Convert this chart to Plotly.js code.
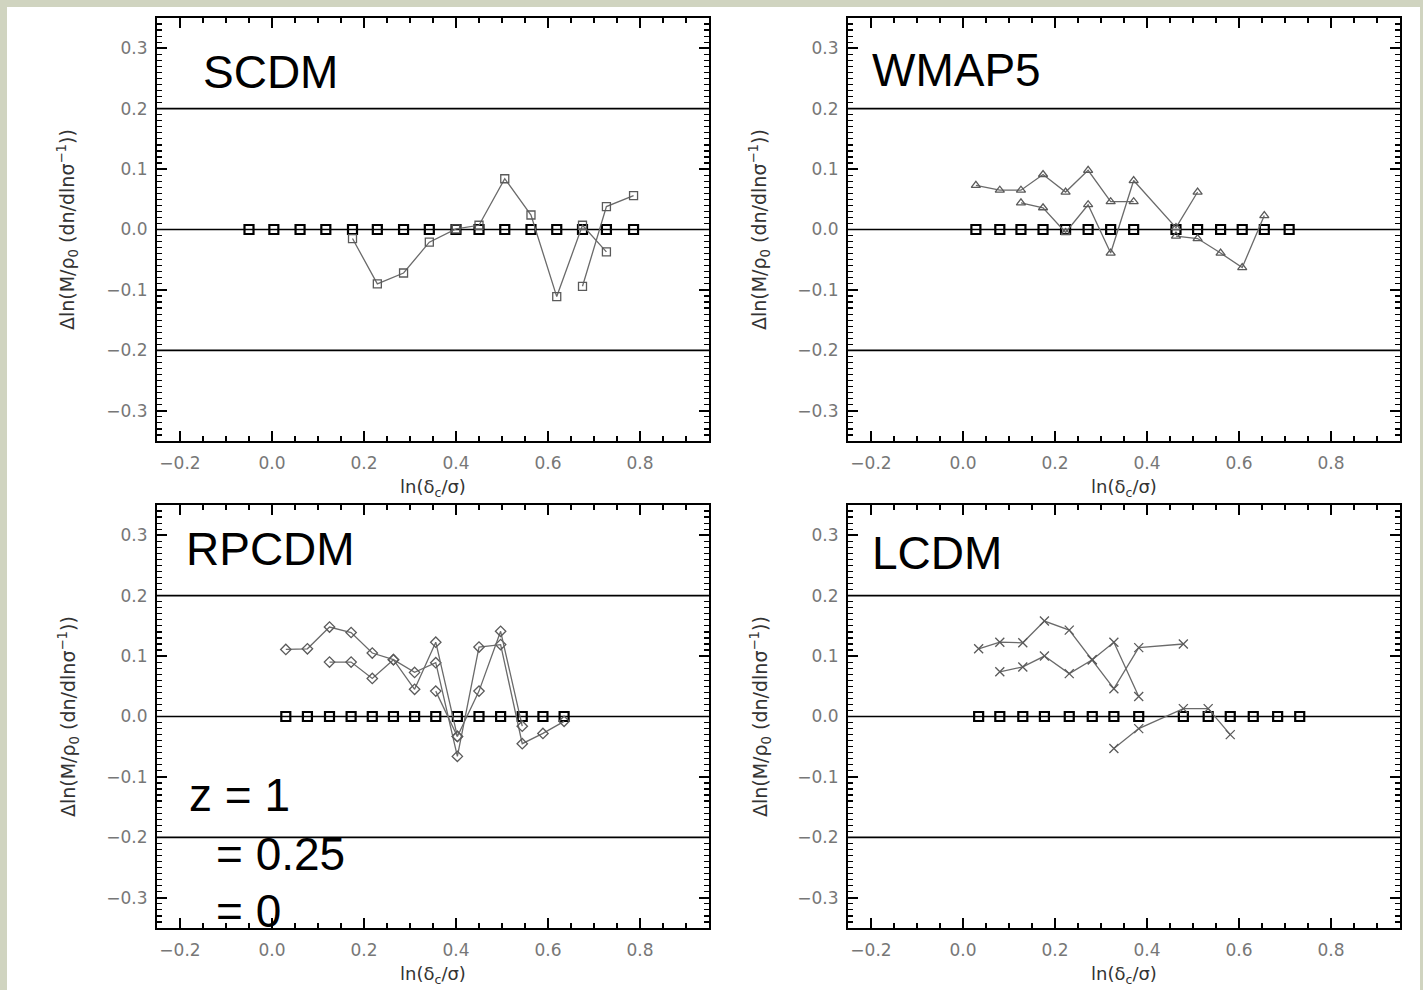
<!DOCTYPE html>
<html>
<head>
<meta charset="utf-8">
<script src="https://cdn.plot.ly/plotly-3.0.1.min.js"></script>
<style>
  html, body { margin:0; padding:0; background:#d0d4c0; width:1423px; height:990px; overflow:hidden; }
  #plot { position:absolute; left:7px; top:7px; width:1413px; height:983px; background:#fff; }
</style>
</head>
<body>
<div id="plot"></div>
<script>
// ---------------- data ----------------
// SCDM
const scdmX = [-0.050, 0.004, 0.061, 0.117, 0.175, 0.229, 0.286, 0.342, 0.400, 0.450, 0.506, 0.563, 0.619, 0.675, 0.727, 0.786];
const scdmRef = [0, 0, 0, 0, 0, 0, 0, 0, 0, 0, 0, 0, 0, 0, 0, 0];
const scdmA = [-0.015, -0.090, -0.072, -0.021, 0.001, 0.007, 0.084, 0.024, -0.111, 0.007, -0.037]; // bins 4..14
const scdmB = [-0.094, 0.038, 0.056];                                                               // bins 13..15
// WMAP5
const wmapX = [0.028, 0.080, 0.126, 0.174, 0.223, 0.272, 0.321, 0.371, 0.463, 0.510, 0.560, 0.607, 0.655, 0.709];
const wmapRef = [0, 0, 0, 0, 0, 0, 0, 0, 0, 0, 0, 0, 0, 0];
const wmapA = [0.073, 0.065, 0.065, 0.091, 0.062, 0.098, 0.046, 0.046];           // bins 0..7
const wmapB = [0.044, 0.036, -0.005, 0.041, -0.039, 0.081, 0.003, 0.062];         // bins 2..9
const wmapC = [-0.011, -0.015, -0.039, -0.063, 0.023];                            // bins 8..12
// RPCDM
const rpX = [0.030, 0.077, 0.125, 0.172, 0.218, 0.264, 0.310, 0.356, 0.403, 0.450, 0.497, 0.544, 0.589, 0.635];
const rpRef = [0, 0, 0, 0, 0, 0, 0, 0, 0, 0, 0, 0, 0, 0];
const rpA = [0.111, 0.112, 0.148, 0.139, 0.105, 0.094, 0.073, 0.089, -0.066, 0.115, 0.119, -0.045, -0.028, -0.008]; // bins 0..13
const rpB = [0.090, 0.090, 0.063, 0.094, 0.045, 0.123, -0.033, 0.042, 0.141, -0.016];                              // bins 2..11
const rpC = [0.042, -0.033];                                                                                         // bins 7..8
// LCDM
const lcX = [0.034, 0.080, 0.130, 0.177, 0.231, 0.281, 0.328, 0.382, 0.479, 0.533, 0.581, 0.631, 0.684, 0.732];
const lcRef = [0, 0, 0, 0, 0, 0, 0, 0, 0, 0, 0, 0, 0, 0];
const lcA = [0.112, 0.123, 0.122, 0.158, 0.143, 0.094, 0.046, 0.114, 0.120];      // bins 0..8
const lcB = [0.074, 0.082, 0.100, 0.071, 0.094, 0.123, 0.033];                    // bins 1..7
const lcC = [-0.053, -0.020, 0.013, 0.013, -0.030];                               // bins 6..10

const panelNames = ['SCDM', 'WMAP5', 'RPCDM', 'LCDM'];
const legendLines = ['z = 1', '= 0.25', '= 0'];
const xTitle = 'ln(δ<sub>c</sub>/σ)';
const yTitle = 'Δln(M/ρ<sub>0</sub> (dn/dlnσ<sup>−1</sup>))';

// ---------------- helpers ----------------
const W = 1413, H = 983, OX = 7, OY = 7;
const px = v => (v - OX) / W;
const py = v => 1 - (v - OY) / H;

function refTrace(x, y, ax) {
  return {x, y, xaxis: 'x' + ax, yaxis: 'y' + ax, mode: 'lines+markers', type: 'scatter',
    line: {color: '#000', width: 1},
    marker: {symbol: 'square-open', size: 9, color: '#000', line: {width: 2.2, color: '#000'}},
    hoverinfo: 'skip', showlegend: false};
}
function dataTrace(x, y, ax, sym, size) {
  return {x, y, xaxis: 'x' + ax, yaxis: 'y' + ax, mode: 'lines+markers', type: 'scatter',
    line: {color: '#6a6a6a', width: 1.3},
    marker: {symbol: sym, size: size, color: '#5a5a5a', line: {width: 1.3, color: '#5a5a5a'}},
    hoverinfo: 'skip', showlegend: false};
}
const ax = ['', '2', '3', '4'];

const traces = [
  refTrace(scdmX, scdmRef, ''),
  dataTrace(scdmX.slice(4, 15), scdmA, '', 'square-open', 8),
  dataTrace(scdmX.slice(13, 16), scdmB, '', 'square-open', 8),

  refTrace(wmapX, wmapRef, '2'),
  dataTrace(wmapX.slice(0, 8), wmapA, '2', 'triangle-up-open', 8),
  dataTrace(wmapX.slice(2, 10), wmapB, '2', 'triangle-up-open', 8),
  dataTrace(wmapX.slice(8, 13), wmapC, '2', 'triangle-up-open', 8),

  refTrace(rpX, rpRef, '3'),
  dataTrace(rpX.slice(0, 14), rpA, '3', 'diamond-open', 8),
  dataTrace(rpX.slice(2, 12), rpB, '3', 'diamond-open', 8),
  dataTrace(rpX.slice(7, 9), rpC, '3', 'diamond-open', 8),

  refTrace(lcX, lcRef, '4'),
  dataTrace(lcX.slice(0, 9), lcA, '4', 'x-thin-open', 9),
  dataTrace(lcX.slice(1, 8), lcB, '4', 'x-thin-open', 9),
  dataTrace(lcX.slice(6, 11), lcC, '4', 'x-thin-open', 9),
];

const tickFont = {family: 'DejaVu Sans, sans-serif', size: 17, color: '#777'};
function xa(domain, anchor) {
  return {domain, anchor, range: [-0.25, 0.95], tick0: 0, dtick: 0.2, tickformat: '.1f',
    ticks: 'inside', ticklen: 10, tickwidth: 1.5, tickcolor: '#000',
    showline: true, linewidth: 2, linecolor: '#000', mirror: 'allticks',
    showgrid: false, zeroline: false, tickfont: tickFont, ticklabelstandoff: 6,
    minor: {dtick: 0.05, tick0: 0, ticks: 'inside', ticklen: 5, tickwidth: 1.5, tickcolor: '#000', showgrid: false},
    fixedrange: true};
}
function ya(domain, anchor) {
  return {domain, anchor, range: [-0.35, 0.35], tick0: 0, dtick: 0.1, tickformat: '.1f',
    ticks: 'inside', ticklen: 10, tickwidth: 1.5, tickcolor: '#000',
    showline: true, linewidth: 2, linecolor: '#000', mirror: 'allticks',
    showgrid: false, zeroline: false, tickfont: tickFont, ticklabelstandoff: 4,
    minor: {dtick: 0.01, tick0: 0, ticks: 'inside', ticklen: 5, tickwidth: 1.2, tickcolor: '#000', showgrid: false},
    fixedrange: true};
}
const xL = [px(157), px(709)], xR = [px(848), px(1400)];
const yT = [py(441), py(18)], yB = [py(928), py(505)];

const shapes = [];
ax.forEach(a => {
  [0.2, 0, -0.2].forEach(v => shapes.push({type: 'line', xref: 'x' + a + ' domain', yref: 'y' + a,
    x0: 0, x1: 1, y0: v, y1: v, line: {color: '#000', width: 1.6}, layer: 'below'}));
});

const bigFont = {family: 'Liberation Sans, Arial, sans-serif', size: 46, color: '#000'};
const titleFont = {family: 'DejaVu Sans, sans-serif', size: 18, color: '#333'};
const annotations = [
  {text: panelNames[0], x: px(201), y: py(72), xanchor: 'left', yanchor: 'middle'},
  {text: panelNames[1], x: px(870), y: py(70), xanchor: 'left', yanchor: 'middle'},
  {text: panelNames[2], x: px(184), y: py(549), xanchor: 'left', yanchor: 'middle'},
  {text: panelNames[3], x: px(870), y: py(553), xanchor: 'left', yanchor: 'middle'},
  {text: legendLines[0], x: px(187), y: py(795), xanchor: 'left', yanchor: 'middle'},
  {text: legendLines[1], x: px(214), y: py(854), xanchor: 'left', yanchor: 'middle'},
  {text: legendLines[2], x: px(214), y: py(911), xanchor: 'left', yanchor: 'middle'},
].map(a => Object.assign(a, {xref: 'paper', yref: 'paper', showarrow: false, font: bigFont}));

[[433, 488], [1124, 488], [433, 975], [1124, 975]].forEach(([cx, cy]) => annotations.push({
  text: xTitle, x: px(cx), y: py(cy), xref: 'paper', yref: 'paper', xanchor: 'center', yanchor: 'middle',
  showarrow: false, font: titleFont}));
[[68, 230], [760, 230], [68, 717], [760, 717]].forEach(([cx, cy]) => annotations.push({
  text: yTitle, x: px(cx), y: py(cy), xref: 'paper', yref: 'paper', xanchor: 'center', yanchor: 'middle',
  textangle: -90, showarrow: false, font: {family: 'DejaVu Sans, sans-serif', size: 19, color: '#333'}}));

const layout = {
  width: W, height: H, margin: {l: 0, r: 0, t: 0, b: 0},
  paper_bgcolor: '#fff', plot_bgcolor: '#fff', showlegend: false,
  xaxis: xa(xL, 'y'), yaxis: ya(yT, 'x'),
  xaxis2: xa(xR, 'y2'), yaxis2: ya(yT, 'x2'),
  xaxis3: xa(xL, 'y3'), yaxis3: ya(yB, 'x3'),
  xaxis4: xa(xR, 'y4'), yaxis4: ya(yB, 'x4'),
  shapes, annotations
};

Plotly.newPlot('plot', traces, layout, {staticPlot: true, displayModeBar: false});
</script>
</body>
</html>
